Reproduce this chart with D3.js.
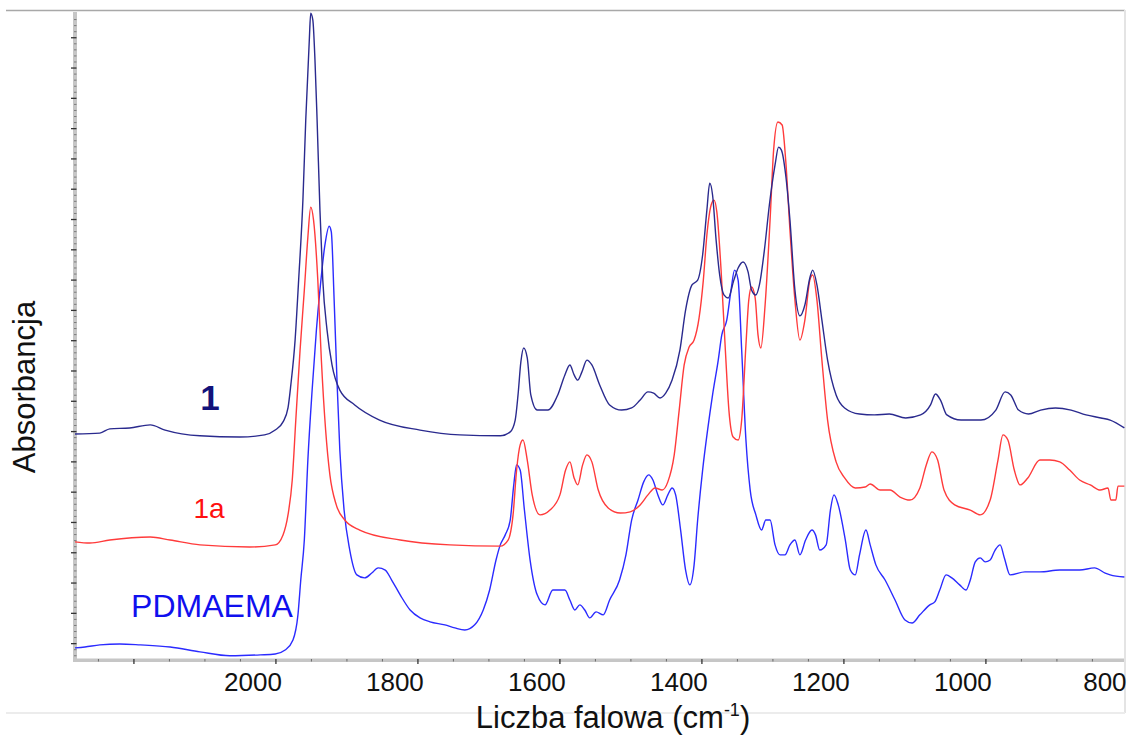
<!DOCTYPE html>
<html>
<head>
<meta charset="utf-8">
<script src="https://cdn.jsdelivr.net/npm/d3@7"></script>
<style>
  body { margin: 0; background: #fff; }
  svg { display: block; }
  text { font-family: "Liberation Sans", Arial, Helvetica, sans-serif; }
</style>
</head>
<body>
<svg id="chart" width="1128" height="737"></svg>
<script>
// FTIR spectra: wavenumber (cm-1) vs absorbance, curves stacked with offsets
const xMajorTicks = [2200, 2000, 1800, 1600, 1400, 1200, 1000];
const xTickLabels = ["2000", "1800", "1600", "1400", "1200", "1000", "800"];
const xTickLabelValues = [2000, 1800, 1600, 1400, 1200, 1000, 800];

const seriesLabels = ["1", "1a", "PDMAEMA"];

// [wavenumber, absorbance]
const spectrum1 = [
  [2283,0.692],[2248,0.695],[2234,0.709],[2206,0.712],[2177,0.722],[2156,0.705],[2107,0.686],
  [2051,0.682],[2016,0.689],[2001,0.705],[1990,0.732],[1983,0.778],[1979,0.854],[1973,1.002],
  [1968,1.200],[1962,1.464],[1958,1.728],[1953,1.992],[1951,2.081],[1948,2.058],[1945,1.926],
  [1942,1.728],[1938,1.431],[1934,1.200],[1928,1.035],[1921,0.920],[1910,0.837],[1889,0.788],
  [1854,0.738],[1797,0.705],[1741,0.689],[1684,0.686],[1670,0.699],[1663,0.738],[1659,0.821],
  [1655,0.930],[1651,0.976],[1646,0.943],[1641,0.821],[1632,0.771],[1617,0.771],[1603,0.821],
  [1593,0.887],[1586,0.920],[1580,0.887],[1575,0.870],[1569,0.897],[1562,0.936],[1555,0.920],
  [1544,0.854],[1530,0.788],[1513,0.771],[1499,0.778],[1487,0.804],[1476,0.831],[1468,0.827],
  [1459,0.811],[1451,0.827],[1442,0.870],[1431,0.969],[1423,1.101],[1414,1.184],[1406,1.200],
  [1399,1.283],[1393,1.431],[1389,1.520],[1385,1.481],[1380,1.332],[1375,1.217],[1369,1.151],
  [1363,1.141],[1355,1.200],[1349,1.240],[1342,1.260],[1335,1.227],[1330,1.167],[1324,1.151],
  [1319,1.184],[1312,1.299],[1305,1.448],[1297,1.580],[1292,1.639],[1288,1.629],[1282,1.547],
  [1276,1.398],[1269,1.167],[1262,1.082],[1255,1.118],[1248,1.207],[1244,1.233],[1238,1.184],
  [1231,1.068],[1223,0.936],[1211,0.821],[1199,0.778],[1178,0.758],[1157,0.755],[1136,0.758],
  [1113,0.745],[1092,0.755],[1078,0.788],[1071,0.824],[1064,0.804],[1055,0.755],[1035,0.738],
  [1007,0.738],[986,0.771],[973,0.831],[965,0.821],[954,0.771],[940,0.758],[923,0.771],
  [902,0.778],[880,0.771],[859,0.755],[838,0.745],[825,0.738],[805,0.712]
];

const spectrum1a = [
  [2283,0.336],[2262,0.332],[2234,0.342],[2177,0.352],[2149,0.342],[2107,0.326],[2037,0.319],
  [2001,0.326],[1990,0.359],[1983,0.425],[1977,0.540],[1972,0.738],[1966,0.969],[1960,1.167],
  [1955,1.342],[1951,1.441],[1947,1.398],[1941,1.200],[1936,0.936],[1930,0.705],[1924,0.557],
  [1915,0.458],[1903,0.408],[1882,0.375],[1825,0.342],[1755,0.326],[1684,0.322],[1673,0.342],
  [1666,0.425],[1661,0.573],[1656,0.656],[1652,0.672],[1646,0.606],[1639,0.491],[1628,0.425],
  [1614,0.441],[1600,0.491],[1592,0.573],[1586,0.600],[1580,0.547],[1575,0.524],[1568,0.590],
  [1562,0.623],[1555,0.600],[1546,0.507],[1532,0.448],[1515,0.431],[1501,0.435],[1487,0.458],
  [1476,0.491],[1466,0.514],[1456,0.507],[1448,0.534],[1439,0.623],[1432,0.771],[1425,0.920],
  [1418,0.979],[1411,1.002],[1404,1.075],[1398,1.200],[1393,1.349],[1387,1.448],[1383,1.464],
  [1379,1.425],[1373,1.233],[1367,0.969],[1362,0.771],[1356,0.682],[1349,0.672],[1344,0.738],
  [1338,0.986],[1334,1.134],[1330,1.177],[1325,1.141],[1321,1.019],[1317,0.976],[1311,1.118],
  [1304,1.398],[1299,1.629],[1293,1.722],[1287,1.712],
  [1282,1.596],[1276,1.365],[1269,1.134],[1262,1.002],[1255,1.068],[1248,1.200],[1244,1.217],
  [1238,1.134],[1231,0.936],[1223,0.738],[1211,0.600],[1199,0.547],[1184,0.514],[1170,0.517],
  [1163,0.527],[1149,0.507],[1135,0.507],[1121,0.484],[1107,0.474],[1093,0.514],[1084,0.590],
  [1076,0.633],[1068,0.606],[1059,0.507],[1044,0.458],[1022,0.441],[1008,0.425],[994,0.474],
  [983,0.606],[976,0.689],[969,0.672],[960,0.573],[952,0.524],[941,0.547],[924,0.606],
  [910,0.606],[896,0.600],[882,0.573],[868,0.540],[853,0.524],[839,0.507],[828,0.514],
  [824,0.474],[817,0.474],[814,0.520],[805,0.520]
];

const spectrumPDMAEMA = [
  [2283,-0.014],[2269,-0.011],[2248,-0.004],[2220,-0.001],[2191,-0.004],[2149,-0.011],[2107,-0.027],
  [2065,-0.040],[2022,-0.037],[2001,-0.034],[1987,-0.021],[1976,0.012],[1969,0.095],[1965,0.210],
  [1960,0.342],[1955,0.606],[1949,0.837],[1943,1.035],[1938,1.167],[1931,1.316],[1925,1.378],
  [1922,1.359],[1918,1.134],[1914,0.870],[1910,0.639],[1904,0.441],[1896,0.309],[1886,0.227],
  [1875,0.217],[1865,0.233],[1856,0.250],[1846,0.243],[1837,0.210],[1825,0.161],[1811,0.111],
  [1797,0.085],[1783,0.072],[1762,0.062],[1748,0.052],[1734,0.045],[1720,0.062],[1708,0.111],
  [1699,0.177],[1690,0.276],[1684,0.326],[1677,0.359],[1670,0.408],[1665,0.524],[1661,0.590],
  [1656,0.573],[1650,0.441],[1642,0.276],[1632,0.161],[1621,0.128],[1610,0.177],[1600,0.177],
  [1593,0.177],[1586,0.144],[1579,0.111],[1572,0.128],[1565,0.111],[1558,0.085],[1549,0.105],
  [1539,0.095],[1530,0.144],[1516,0.210],[1507,0.293],[1499,0.408],[1490,0.474],[1482,0.534],
  [1475,0.557],[1469,0.540],[1462,0.491],[1455,0.458],[1448,0.491],[1442,0.514],[1437,0.491],
  [1430,0.375],[1423,0.243],[1417,0.194],[1411,0.260],[1406,0.408],[1399,0.573],[1392,0.705],
  [1385,0.821],[1377,0.936],[1372,1.019],[1365,1.068],[1359,1.167],[1354,1.233],[1349,1.200],
  [1344,0.969],[1338,0.672],[1332,0.507],[1324,0.425],[1316,0.375],[1310,0.408],[1304,0.408],
  [1297,0.326],[1290,0.293],[1283,0.293],[1276,0.326],[1269,0.342],[1262,0.293],[1254,0.342],
  [1245,0.375],[1240,0.359],[1234,0.309],[1225,0.326],[1219,0.441],[1214,0.491],[1208,0.458],
  [1198,0.342],[1191,0.243],[1184,0.227],[1178,0.293],[1169,0.375],[1163,0.326],[1155,0.260],
  [1142,0.210],[1128,0.144],[1114,0.078],[1104,0.068],[1093,0.095],[1079,0.128],[1072,0.138],
  [1065,0.177],[1056,0.227],[1048,0.217],[1037,0.194],[1028,0.177],[1022,0.210],[1015,0.270],
  [1008,0.283],[1001,0.270],[994,0.276],[987,0.309],[980,0.326],[974,0.283],[966,0.227],
  [945,0.237],[924,0.237],[896,0.243],[868,0.243],[847,0.250],[832,0.233],[825,0.227],[805,0.220]
];

const svg = d3.select("#chart");

const plot = { left: 75, right: 1124, top: 12, bottom: 660 };

const x = d3.scaleLinear().domain([2283, 805.5]).range([plot.left, plot.right]);
const y = d3.scaleLinear().domain([-0.054, 2.085]).range([plot.bottom, plot.top]);

// frame lines around the figure
svg.append("line").attr("x1", 6).attr("x2", 1125).attr("y1", 10.5).attr("y2", 10.5)
  .attr("stroke", "#a8a8a8").attr("stroke-width", 1.5);
svg.append("line").attr("x1", 1125).attr("x2", 1125).attr("y1", 10).attr("y2", 713)
  .attr("stroke", "#e4e4e4").attr("stroke-width", 2);
svg.append("line").attr("x1", 6).attr("x2", 1125).attr("y1", 713).attr("y2", 713)
  .attr("stroke", "#ececec").attr("stroke-width", 2);

// axis bars
svg.append("rect").attr("x", plot.left - 2).attr("y", plot.top).attr("width", 4)
  .attr("height", plot.bottom - plot.top + 2).attr("fill", "#c6c6c6");
svg.append("rect").attr("x", plot.left - 2).attr("y", plot.bottom - 1.5)
  .attr("width", plot.right - plot.left + 2).attr("height", 3.5).attr("fill", "#c6c6c6");

// y ticks: majors every 0.1, minors every 0.02
const yMajor = d3.range(0, 2.0001, 0.1);
const yMinor = d3.range(-0.04, 2.08, 0.02).filter(v => Math.abs(Math.round(v * 10) - v * 10) > 1e-6);
svg.append("g").selectAll("line").data(yMinor).join("line")
  .attr("x1", plot.left - 1).attr("x2", plot.left + 1.5)
  .attr("y1", d => y(d)).attr("y2", d => y(d))
  .attr("stroke", "#7a7a7a").attr("stroke-width", 1);
svg.append("g").selectAll("line").data(yMajor).join("line")
  .attr("x1", plot.left - 4).attr("x2", plot.left + 1.5)
  .attr("y1", d => y(d)).attr("y2", d => y(d))
  .attr("stroke", "#333").attr("stroke-width", 1.3);

// x ticks: majors every 200, minors every 50
const xMinor = d3.range(2250, 805, -50).filter(v => v % 200 !== 0);
svg.append("g").selectAll("line").data(xMinor).join("line")
  .attr("x1", d => x(d)).attr("x2", d => x(d))
  .attr("y1", plot.bottom - 1).attr("y2", plot.bottom + 1.5)
  .attr("stroke", "#6a6a6a").attr("stroke-width", 1);
svg.append("g").selectAll("line").data(xMajorTicks).join("line")
  .attr("x1", d => x(d)).attr("x2", d => x(d))
  .attr("y1", plot.bottom - 1).attr("y2", plot.bottom + 4)
  .attr("stroke", "#333").attr("stroke-width", 1.3);

// tick labels sit a little left of their tick marks
svg.append("g").selectAll("text").data(xTickLabelValues).join("text")
  .attr("x", d => x(d) - 23).attr("y", 691)
  .attr("text-anchor", "middle").attr("font-size", 26).attr("fill", "#111")
  .text((d, i) => xTickLabels[i]);

// axis titles
const xTitle = svg.append("text").attr("x", 613).attr("y", 728)
  .attr("text-anchor", "middle").attr("font-size", 31).attr("fill", "#111");
xTitle.append("tspan").text("Liczba falowa (cm");
xTitle.append("tspan").attr("font-size", 18).attr("dy", -12).text("-1");
xTitle.append("tspan").attr("dy", 12).text(")");

svg.append("text").attr("transform", "translate(35,387) rotate(-90)")
  .attr("text-anchor", "middle").attr("font-size", 31).attr("fill", "#111")
  .text("Absorbancja");

// spectra
const line = d3.line().x(d => x(d[0])).y(d => y(d[1])).curve(d3.curveMonotoneX);
const spectra = [
  { data: spectrumPDMAEMA, color: "#2b2bff" },
  { data: spectrum1a, color: "#ff3b3b" },
  { data: spectrum1, color: "#2a2a8e" }
];
svg.append("g").selectAll("path").data(spectra).join("path")
  .attr("d", d => line(d.data)).attr("fill", "none")
  .attr("stroke", d => d.color).attr("stroke-width", 1.4)
  .attr("stroke-linejoin", "round");

// series labels
const labelStyle = [
  { x: 210, y: 410, size: 35, color: "#12127a", weight: "bold" },
  { x: 209, y: 518, size: 28, color: "#ff1010", weight: "normal" },
  { x: 212, y: 617, size: 32, color: "#1010ee", weight: "normal" }
];
svg.append("g").selectAll("text").data(seriesLabels).join("text")
  .attr("x", (d, i) => labelStyle[i].x).attr("y", (d, i) => labelStyle[i].y)
  .attr("text-anchor", "middle").attr("font-size", (d, i) => labelStyle[i].size)
  .attr("font-weight", (d, i) => labelStyle[i].weight)
  .attr("fill", (d, i) => labelStyle[i].color).text(d => d);
</script>
</body>
</html>
